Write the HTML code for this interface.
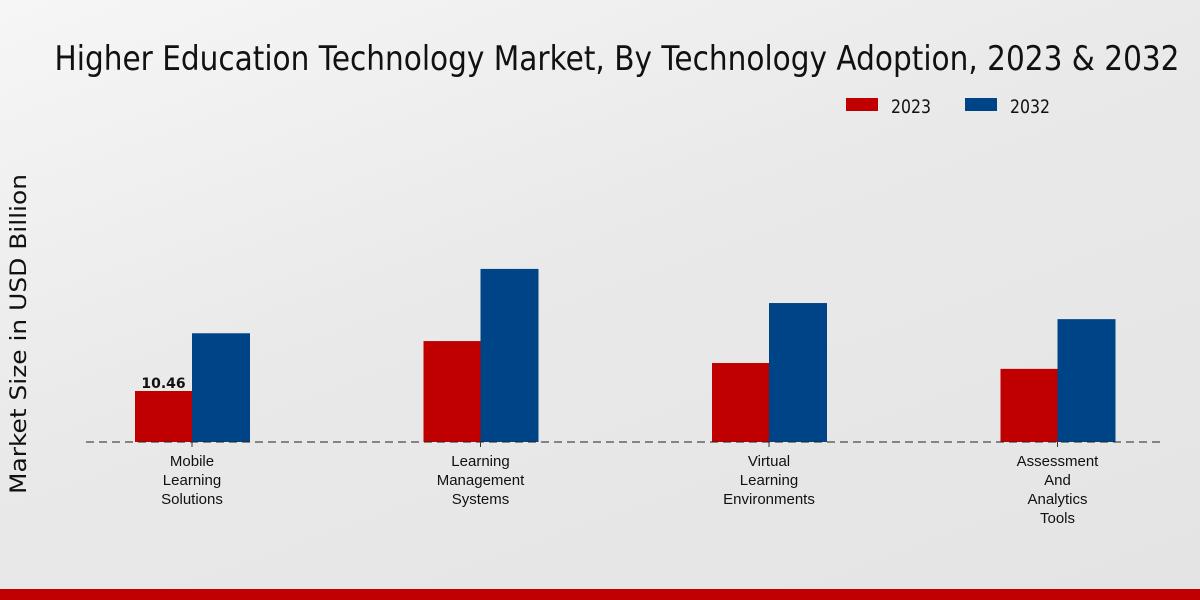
<!DOCTYPE html>
<html><head><meta charset="utf-8"><style>
html,body{margin:0;padding:0;width:1200px;height:600px;overflow:hidden}
body{background:linear-gradient(160deg,#f6f6f6 0%,#e9e9e9 45%,#e4e4e4 100%)}
svg{position:absolute;left:0;top:0}
text{font-family:"DejaVu Sans","Liberation Sans",sans-serif}
.xl{font-family:"Liberation Sans",sans-serif}
</style></head><body>
<svg id="chart" width="1200" height="600">
<text x="617" y="70" text-anchor="middle" font-size="34" textLength="1125" lengthAdjust="spacingAndGlyphs" fill="#111">Higher Education Technology Market, By Technology Adoption, 2023 &amp; 2032</text>
<g>
<rect x="846" y="98" width="32" height="13" fill="#c00000"/>
<text x="891" y="113" font-size="19" textLength="40" lengthAdjust="spacingAndGlyphs" fill="#111">2023</text>
<rect x="965" y="98" width="32" height="13" fill="#004488"/>
<text x="1010" y="113" font-size="19" textLength="40" lengthAdjust="spacingAndGlyphs" fill="#111">2032</text>
</g>
<text transform="translate(26,334) rotate(-90)" text-anchor="middle" font-size="22" textLength="320" lengthAdjust="spacingAndGlyphs" fill="#111">Market Size in USD Billion</text>
<g id="bars"></g>
<line x1="86" y1="442" x2="1165" y2="442" stroke="#222" stroke-width="1" stroke-dasharray="8,5"/>
<g id="labels"></g>
<rect x="0" y="589" width="1200" height="11" fill="#c00000"/>
</svg>
<script>
const categories=[["Mobile","Learning","Solutions"],["Learning","Management","Systems"],["Virtual","Learning","Environments"],["Assessment","And","Analytics","Tools"]];
const values2023=[10.46,20.7,16.2,15.0];
const values2032=[22.3,35.5,28.5,25.2];
const valueLabels=["10.46","","",""];
const NS="http://www.w3.org/2000/svg";
const baseY=442,pxPerUnit=51/10.46,x0=192,step=288.5,bw=57;
const y=v=>baseY-v*pxPerUnit;
const xc=i=>x0+i*step;
const bars=document.getElementById('bars'),labels=document.getElementById('labels');
function mk(tag,attrs,parent){const e=document.createElementNS(NS,tag);for(const k in attrs)e.setAttribute(k,attrs[k]);parent.appendChild(e);return e;}
categories.forEach((c,i)=>{
 const r=mk('rect',{x:xc(i)-bw,y:y(values2023[i]),width:bw,height:baseY-y(values2023[i]),fill:'#c00000'},bars);
 
 
 const b=mk('rect',{x:xc(i),y:y(values2032[i]),width:bw+1,height:baseY-y(values2032[i]),fill:'#004488'},bars);
 
 
 if(valueLabels[i]){
  const t=mk('text',{x:xc(i)-bw/2,y:y(values2023[i])-3,'text-anchor':'middle','font-size':'14','font-weight':'bold',fill:'#111'},labels);
  t.textContent=valueLabels[i];
  
  
 }
 const tk=mk('line',{x1:xc(i),y1:baseY,x2:xc(i),y2:baseY+5,stroke:'#333'},labels);
 
 
 c.forEach((ln,j)=>{
  const t=mk('text',{x:xc(i),y:466+j*19,'text-anchor':'middle','font-size':'15',fill:'#111','class':'xl'},labels);
  t.textContent=ln;
  
  
 });
});
</script>
</body></html>
